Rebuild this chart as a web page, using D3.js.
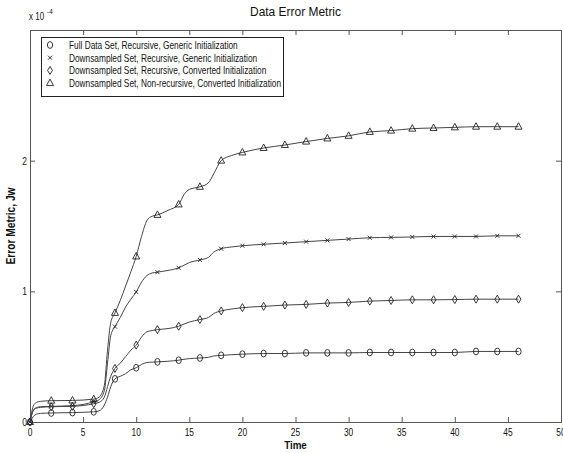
<!DOCTYPE html>
<html>
<head>
<meta charset="utf-8">
<script src="https://cdn.jsdelivr.net/npm/d3@7"></script>
<style>
  body { margin: 0; background: #fff; }
  svg { display: block; }
  text { font-family: "Liberation Sans", Arial, sans-serif; fill: #111; }
</style>
</head>
<body>
<svg width="563" height="453"></svg>
<script>
// values in units of 1e-4
const times = [0, 0.3, 0.6, 1, 2, 4, 6, 6.5, 7, 7.3, 7.6, 8, 8.5, 9, 9.5, 10, 10.5, 11, 11.5, 12,
  13, 14, 14.5, 15, 16, 16.8, 17.3, 18, 19, 20, 22, 24, 26, 28, 30, 32, 34, 36, 38, 40, 42, 44, 46];

const fullRecGeneric = [0, 0.04, 0.06, 0.066, 0.069, 0.072, 0.078, 0.085, 0.13, 0.19, 0.27, 0.33, 0.35, 0.37, 0.40, 0.415, 0.44, 0.455, 0.458, 0.46,
  0.465, 0.473, 0.48, 0.485, 0.49, 0.495, 0.505, 0.51, 0.515, 0.519, 0.524, 0.524, 0.529, 0.529, 0.529, 0.532, 0.532, 0.532, 0.532, 0.532, 0.54, 0.54, 0.54];

const downRecGeneric = [0, 0.09, 0.11, 0.117, 0.12, 0.125, 0.155, 0.17, 0.24, 0.45, 0.66, 0.73, 0.80, 0.88, 0.94, 0.995, 1.07, 1.12, 1.14, 1.147,
  1.16, 1.18, 1.20, 1.22, 1.24, 1.26, 1.30, 1.326, 1.34, 1.349, 1.36, 1.37, 1.38, 1.39, 1.40, 1.41, 1.413, 1.416, 1.42, 1.42, 1.42, 1.425, 1.425];

const downRecConverted = [0, 0.085, 0.105, 0.112, 0.117, 0.12, 0.14, 0.15, 0.19, 0.27, 0.35, 0.41, 0.45, 0.50, 0.55, 0.588, 0.65, 0.69, 0.70, 0.707,
  0.715, 0.733, 0.75, 0.765, 0.784, 0.80, 0.83, 0.85, 0.865, 0.875, 0.885, 0.895, 0.90, 0.91, 0.915, 0.925, 0.93, 0.935, 0.935, 0.937, 0.94, 0.94, 0.94];

const downNonrecConverted = [0, 0.12, 0.15, 0.158, 0.163, 0.165, 0.175, 0.19, 0.28, 0.55, 0.76, 0.835, 0.93, 1.04, 1.15, 1.267, 1.42, 1.54, 1.575, 1.585,
  1.62, 1.665, 1.74, 1.78, 1.80, 1.83, 1.90, 2.0, 2.04, 2.063, 2.097, 2.12, 2.146, 2.17, 2.19, 2.22, 2.23, 2.245, 2.25, 2.255, 2.26, 2.26, 2.26];

const seriesNames = [
  'Full Data Set, Recursive, Generic Initialization',
  'Downsampled Set, Recursive, Generic Initialization',
  'Downsampled Set, Recursive, Converted Initialization',
  'Downsampled Set, Non-recursive, Converted Initialization'
];
const markerTypes = ['circle', 'cross', 'diamond', 'triangle'];
const seriesValues = [fullRecGeneric, downRecGeneric, downRecConverted, downNonrecConverted];

const xTicks = [0, 5, 10, 15, 20, 25, 30, 35, 40, 45, 50];
const yTicks = [0, 1, 2];

const svg = d3.select('svg');
const plotL = 30, plotR = 561, plotT = 30, plotB = 422;

const x = d3.scaleLinear().domain([0, 50]).range([plotL, plotR]);
const y = d3.scaleLinear().domain([0, 3]).range([plotB, plotT]);

const ink = '#222';

// condensed text helper (screen font in the original is narrow)
function label(g, str, px, py, size, sx, anchor, weight) {
  return g.append('text')
    .attr('transform', `translate(${px},${py}) scale(${sx},1)`)
    .attr('font-size', size)
    .attr('text-anchor', anchor || 'start')
    .attr('font-weight', weight || 'normal')
    .text(str);
}

// axes
const xAxis = d3.axisBottom(x).tickValues(xTicks).tickSize(-5).tickFormat('');
const xAxisTop = d3.axisTop(x).tickValues(xTicks).tickSize(-5).tickFormat('');
const yAxis = d3.axisLeft(y).tickValues(yTicks).tickSize(-5).tickFormat('');
const yAxisRight = d3.axisRight(y).tickValues(yTicks).tickSize(-5).tickFormat('');

[
  [xAxis, `translate(0,${plotB})`],
  [xAxisTop, `translate(0,${plotT})`],
  [yAxis, `translate(${plotL},0)`],
  [yAxisRight, `translate(${plotR},0)`]
].forEach(([ax, tr]) => {
  const g = svg.append('g').attr('transform', tr).call(ax);
  g.select('.domain').attr('stroke', '#555');
  g.selectAll('.tick line').attr('stroke', '#555');
});

const labels = svg.append('g');
xTicks.forEach(v => label(labels, String(v), x(v), plotB + 14, 10.5, 0.8, 'middle'));
yTicks.forEach(v => label(labels, String(v), plotL - 3, y(v) + 4, 10.5, 0.8, 'end'));

// exponent
label(labels, 'x 10', plotL - 1, 20, 10, 0.8, 'start');
label(labels, '-4', plotL + 17, 14, 8, 0.8, 'start');

// title and axis titles
label(labels, 'Data Error Metric', (plotL + plotR) / 2, 16, 13, 0.92, 'middle');
label(labels, 'Time', (plotL + plotR) / 2, 449, 11.5, 0.85, 'middle', 'bold');
labels.append('text')
  .attr('transform', `translate(15,${(plotT + plotB) / 2}) rotate(-90) scale(0.85,1)`)
  .attr('font-size', 12)
  .attr('font-weight', 'bold')
  .attr('text-anchor', 'middle')
  .text('Error Metric, Jw');

// lines
const line = d3.line()
  .x(d => x(d[0]))
  .y(d => y(d[1]))
  .curve(d3.curveMonotoneX);

function drawMarker(g, type, cx, cy) {
  if (type === 'circle') {
    g.append('ellipse').attr('cx', cx).attr('cy', cy).attr('rx', 2.6).attr('ry', 3.4)
      .attr('fill', 'none').attr('stroke', ink).attr('stroke-width', 0.9);
  } else if (type === 'cross') {
    g.append('path')
      .attr('d', `M${cx - 2},${cy - 2}L${cx + 2},${cy + 2}M${cx - 2},${cy + 2}L${cx + 2},${cy - 2}`)
      .attr('stroke', ink).attr('stroke-width', 0.9);
  } else if (type === 'diamond') {
    g.append('path')
      .attr('d', `M${cx},${cy - 4}L${cx + 2.4},${cy}L${cx},${cy + 4}L${cx - 2.4},${cy}Z`)
      .attr('fill', 'none').attr('stroke', ink).attr('stroke-width', 0.9);
  } else {
    g.append('path')
      .attr('d', `M${cx},${cy - 4}L${cx + 3.5},${cy + 2.5}L${cx - 3.5},${cy + 2.5}Z`)
      .attr('fill', 'none').attr('stroke', ink).attr('stroke-width', 0.9);
  }
}

const plot = svg.append('g');
seriesValues.forEach((vals, i) => {
  const pts = times.map((t, j) => [t, vals[j]]);
  plot.append('path')
    .datum(pts)
    .attr('d', line)
    .attr('fill', 'none')
    .attr('stroke', '#444')
    .attr('stroke-width', 1);
  const mg = plot.append('g');
  pts.filter(p => Number.isInteger(p[0]) && p[0] % 2 === 0)
    .forEach(p => drawMarker(mg, markerTypes[i], x(p[0]), y(p[1])));
});

// legend
const lg = svg.append('g');
lg.append('rect')
  .attr('x', 41.5).attr('y', 37.5).attr('width', 242).attr('height', 59)
  .attr('fill', '#fff').attr('stroke', ink).attr('stroke-width', 1);
seriesNames.forEach((name, i) => {
  const ry = 45 + i * 12.7;
  drawMarker(lg, markerTypes[i], 50, ry);
  label(lg, name, 69, ry + 4, 11, 0.755, 'start');
});
</script>
</body>
</html>
